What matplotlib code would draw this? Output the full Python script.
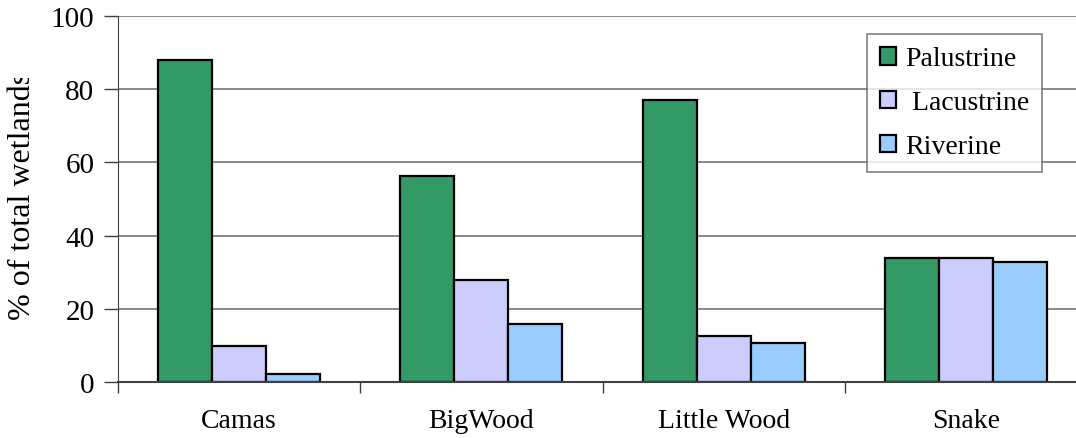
import matplotlib.pyplot as plt
import numpy as np
from matplotlib.transforms import Bbox

basins = ["Camas", "BigWood", "Little Wood", "Snake"]
palustrine = [88, 56.3, 77, 33.9]
lacustrine = [9.9, 27.9, 12.7, 33.9]
riverine = [2.3, 15.9, 10.6, 32.8]
series_names = ["Palustrine", " Lacustrine", "Riverine"]
colors = ["#339966", "#CCCCFF", "#99CCFF"]

plt.rcParams["font.family"] = ["Liberation Serif", "DejaVu Serif"]

W, H = 1076, 439
fig = plt.figure(figsize=(W / 100, H / 100), dpi=100)
# plot area in pixels: left 118, right 1087 (runs past the edge), top 17, bottom 383
ax = fig.add_axes([118 / W, 1 - 383 / H, (1087 - 118) / W, (383 - 17) / H])

x = np.arange(len(basins))
width = 0.223
for i, (vals, name, col) in enumerate(zip([palustrine, lacustrine, riverine], series_names, colors)):
    ax.bar(x + (i - 1) * width, vals, width, color=col, edgecolor="black",
           linewidth=1.6, label=name, zorder=3)

ax.set_xlim(-0.5, len(basins) - 0.5)
ax.set_ylim(0, 100)
ax.set_yticks(range(0, 101, 20))
ax.tick_params(axis="y", labelsize=21, length=10, width=1, color="#404040", pad=7)
ax.yaxis.grid(True, color="#808080", linewidth=1.3, zorder=0)

ax.set_xticks(x)
ax.set_xticklabels(basins, fontsize=20)
ax.tick_params(axis="x", which="major", length=0, pad=19)
ax.set_xticks(np.arange(-0.5, len(basins), 1), minor=True)
ax.tick_params(axis="x", which="minor", length=8, width=1, color="#404040")

for side in ["top", "right"]:
    ax.spines[side].set_visible(False)
ax.spines["left"].set_color("#404040")
ax.spines["bottom"].set_color("#404040")
ax.spines["bottom"].set_linewidth(1.5)
ax.spines["left"].set_zorder(4)
ax.spines["bottom"].set_zorder(4)

leg = ax.legend(loc="upper left", bbox_to_anchor=((867 - 118) / (1087 - 118), (383 - 35) / (383 - 17)),
                fontsize=20, frameon=True, fancybox=False, edgecolor="#606060",
                handlelength=0.6, handleheight=0.6, handletextpad=0.32,
                labelspacing=0.68, borderpad=0.45, borderaxespad=0)
leg.get_frame().set_linewidth(1.2)
leg.set_zorder(5)

# axis title is cut off at the top, as in the original layout
ylab = fig.text(23 / W, (H - 320) / H, "% of total wetlands", rotation=90,
                ha="center", va="bottom", fontsize=23)
ylab.set_clip_box(Bbox.from_extents(0, H - 330, 60, H - 79))
ylab.set_clip_on(True)

fig.savefig("out.png", dpi=100)
